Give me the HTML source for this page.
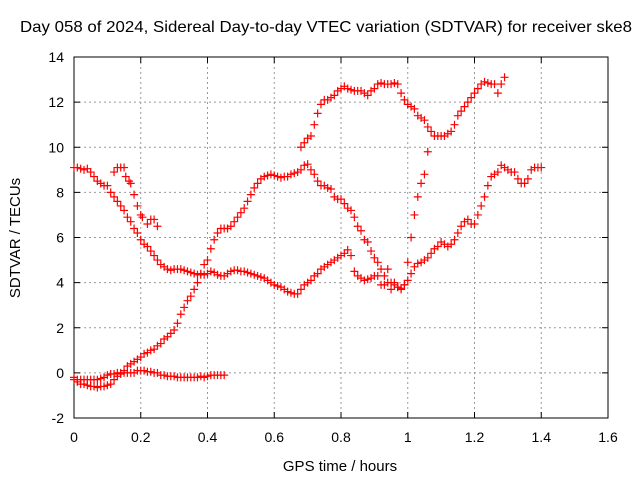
<!DOCTYPE html>
<html><head><meta charset="utf-8"><style>
body{margin:0;background:#fff;}
svg{display:block;font-family:"Liberation Sans",sans-serif;}
</style></head><body>
<svg id="chart" width="640" height="480" viewBox="0 0 640 480">
<text x="20" y="32" font-size="16" textLength="612" lengthAdjust="spacingAndGlyphs">Day 058 of 2024, Sidereal Day-to-day VTEC variation (SDTVAR) for receiver ske8</text>
<text x="340" y="471" font-size="15" text-anchor="middle">GPS time / hours</text>
<text x="20" y="238" font-size="15" text-anchor="middle" transform="rotate(-90 20 238)">SDTVAR / TECUs</text>
<g id="grid"></g><g id="axes"></g><g id="marks"></g>
</svg>
<script>
const xTicks=[0,0.2,0.4,0.6,0.8,1,1.2,1.4,1.6];
const xTickLabels=["0","0.2","0.4","0.6","0.8","1","1.2","1.4","1.6"];
const yTicks=[-2,0,2,4,6,8,10,12,14];
const yTickLabels=["-2","0","2","4","6","8","10","12","14"];
const seriesA=[[0,9.1],[0.01,9.1],[0.02,9.05],[0.03,9.0],[0.04,9.05],[0.05,8.9],[0.06,8.7],[0.07,8.5],[0.08,8.4],[0.09,8.3],[0.10,8.3],[0.11,8.0],[0.12,7.8],[0.13,7.6],[0.14,7.4],[0.15,7.2],[0.16,6.9],[0.17,6.7],[0.18,6.4],[0.19,6.2],[0.20,5.9],[0.21,5.7],[0.22,5.6],[0.23,5.4],[0.24,5.2],[0.25,5.0],[0.26,4.8],[0.27,4.7],[0.28,4.6],[0.29,4.55],[0.30,4.6],[0.31,4.6],[0.32,4.6],[0.33,4.55],[0.34,4.5],[0.35,4.45],[0.36,4.4],[0.37,4.35],[0.38,4.35],[0.39,4.35],[0.40,4.4],[0.41,4.5],[0.42,4.45],[0.43,4.35],[0.44,4.3],[0.45,4.3],[0.46,4.4],[0.47,4.5],[0.48,4.55],[0.49,4.55],[0.50,4.5],[0.51,4.5],[0.52,4.45],[0.53,4.4],[0.54,4.35],[0.55,4.3],[0.56,4.25],[0.57,4.2],[0.58,4.1],[0.59,4.0],[0.60,3.9],[0.61,3.85],[0.62,3.8],[0.63,3.7],[0.64,3.6],[0.65,3.55],[0.66,3.5],[0.67,3.5],[0.68,3.7],[0.69,3.9],[0.70,4.0],[0.71,4.1],[0.72,4.3],[0.73,4.4],[0.74,4.6],[0.75,4.7],[0.76,4.8],[0.77,4.9],[0.78,5.0],[0.79,5.1],[0.80,5.2],[0.81,5.3],[0.82,5.45],[0.83,5.2],[0.84,4.5],[0.85,4.3],[0.86,4.2],[0.87,4.1],[0.88,4.15],[0.89,4.2],[0.90,4.3],[0.91,4.3],[0.92,3.9],[0.93,3.9],[0.94,4.0],[0.95,3.7],[0.96,4.0],[0.97,3.8],[0.98,3.7],[0.99,3.9],[1.00,4.1],[1.01,4.4],[1.02,4.7],[1.03,4.85],[1.04,4.9],[1.05,5.0],[1.06,5.1],[1.07,5.3],[1.08,5.5],[1.09,5.6],[1.10,5.8],[1.11,5.7],[1.12,5.6],[1.13,5.7],[1.14,5.9],[1.15,6.2],[1.16,6.5],[1.17,6.7],[1.18,6.8],[1.19,6.6],[1.20,6.6],[1.21,7.0],[1.22,7.4],[1.23,7.8],[1.24,8.3],[1.25,8.7],[1.26,8.8],[1.27,8.9],[1.28,9.2],[1.29,9.1],[1.30,9.0],[1.31,8.9],[1.32,8.9],[1.33,8.6],[1.34,8.4],[1.35,8.4],[1.36,8.6],[1.37,9.0],[1.38,9.1],[1.39,9.1],[1.40,9.1]];
const seriesB=[[0,-0.3],[0.01,-0.4],[0.02,-0.5],[0.03,-0.5],[0.04,-0.55],[0.05,-0.6],[0.06,-0.6],[0.07,-0.65],[0.08,-0.6],[0.09,-0.6],[0.10,-0.55],[0.11,-0.5],[0.12,-0.3],[0.13,-0.15],[0.14,0.0],[0.15,0.1],[0.16,0.3],[0.17,0.4],[0.18,0.5],[0.19,0.6],[0.20,0.7],[0.21,0.85],[0.22,0.9],[0.23,1.0],[0.24,1.05],[0.25,1.2],[0.26,1.3],[0.27,1.5],[0.28,1.6],[0.29,1.75],[0.30,1.9],[0.31,2.2],[0.32,2.6],[0.33,2.9],[0.34,3.2],[0.35,3.4],[0.36,3.7],[0.37,4.0],[0.38,4.4],[0.39,4.8],[0.40,5.0],[0.41,5.5],[0.42,5.9],[0.43,6.2],[0.44,6.4],[0.45,6.4],[0.46,6.4],[0.47,6.5],[0.48,6.7],[0.49,6.9],[0.50,7.1],[0.51,7.3],[0.52,7.6],[0.53,7.9],[0.54,8.2],[0.55,8.4],[0.56,8.6],[0.57,8.7],[0.58,8.75],[0.59,8.8],[0.60,8.75],[0.61,8.7],[0.62,8.65],[0.63,8.7],[0.64,8.7],[0.65,8.8],[0.66,8.85],[0.67,8.9],[0.68,9.0],[0.69,9.2],[0.70,9.25],[0.71,9.0],[0.72,8.8],[0.73,8.5],[0.74,8.3],[0.75,8.3],[0.76,8.2],[0.77,8.15],[0.78,7.8],[0.79,7.7],[0.80,7.7],[0.81,7.5],[0.82,7.3],[0.83,7.2],[0.84,6.9],[0.85,6.5],[0.86,6.3],[0.87,5.9],[0.88,5.8],[0.89,5.4],[0.90,5.1],[0.91,4.9],[0.92,4.6],[0.93,4.3],[0.94,4.6],[0.95,4.0],[0.96,3.9],[0.97,3.8],[0.98,3.75],[0.99,3.9]];
const seriesC=[[0.68,10.0],[0.69,10.2],[0.70,10.4],[0.71,10.5],[0.72,11.0],[0.73,11.5],[0.74,11.9],[0.75,12.1],[0.76,12.1],[0.77,12.2],[0.78,12.3],[0.79,12.5],[0.80,12.6],[0.81,12.7],[0.82,12.6],[0.83,12.55],[0.84,12.5],[0.85,12.5],[0.86,12.5],[0.87,12.4],[0.88,12.3],[0.89,12.5],[0.90,12.6],[0.91,12.8],[0.92,12.85],[0.93,12.8],[0.94,12.8],[0.95,12.8],[0.96,12.85],[0.97,12.8],[0.98,12.4],[0.99,12.1],[1.00,11.9],[1.01,11.8],[1.02,11.7],[1.03,11.4],[1.04,11.3],[1.05,11.2],[1.06,10.9],[1.07,10.7],[1.08,10.5],[1.09,10.5],[1.10,10.5],[1.11,10.5],[1.12,10.6],[1.13,10.7],[1.14,11.0],[1.15,11.4],[1.16,11.6],[1.17,11.8],[1.18,12.0],[1.19,12.2],[1.20,12.4],[1.21,12.6],[1.22,12.8],[1.23,12.9],[1.24,12.85],[1.25,12.8],[1.26,12.8],[1.27,12.4],[1.28,12.8],[1.29,13.1]];
const seriesD=[[0.12,8.9],[0.13,9.1],[0.14,9.1],[0.15,9.1],[0.155,8.7],[0.165,8.5],[0.17,8.4],[0.18,7.9],[0.19,7.4],[0.20,7.0],[0.205,6.9],[0.22,6.6],[0.23,6.8],[0.24,6.8],[0.25,6.5],[1.00,4.9],[1.01,6.0],[1.02,7.0],[1.03,7.8],[1.04,8.4],[1.05,8.8],[1.06,9.8]];
const seriesE=[[0,-0.2],[0.01,-0.3],[0.02,-0.3],[0.03,-0.3],[0.04,-0.3],[0.05,-0.3],[0.06,-0.3],[0.07,-0.3],[0.08,-0.25],[0.09,-0.2],[0.10,-0.1],[0.11,-0.05],[0.12,-0.05],[0.13,0.0],[0.14,-0.05],[0.15,0.0],[0.16,0.0],[0.17,0.0],[0.18,0.0],[0.19,0.1],[0.20,0.1],[0.21,0.1],[0.22,0.05],[0.23,0.05],[0.24,0.0],[0.25,0.0],[0.26,-0.1],[0.27,-0.1],[0.28,-0.15],[0.29,-0.15],[0.30,-0.15],[0.31,-0.2],[0.32,-0.2],[0.33,-0.2],[0.34,-0.2],[0.35,-0.2],[0.36,-0.2],[0.37,-0.2],[0.38,-0.15],[0.39,-0.2],[0.40,-0.15],[0.41,-0.1],[0.42,-0.1],[0.43,-0.1],[0.44,-0.1],[0.45,-0.1]];

const L=74,R=608,T=57,B=418,X0=0,X1=1.6,Y0=-2,Y1=14;
const NS="http://www.w3.org/2000/svg";
function sx(v){return L+(v-X0)/(X1-X0)*(R-L);}
function sy(v){return B-(v-Y0)/(Y1-Y0)*(B-T);}
function mk(tag,attrs,parent){const e=document.createElementNS(NS,tag);for(const k in attrs)e.setAttribute(k,attrs[k]);parent.appendChild(e);return e;}
const grid=document.getElementById('grid'),axes=document.getElementById('axes'),marks=document.getElementById('marks');
xTicks.forEach((t,i)=>{const x=sx(t);
 if(i>0&&i<xTicks.length-1){const g=mk('line',{x1:x,y1:T,x2:x,y2:B,stroke:'#999','stroke-dasharray':'2,3'},grid);
 
 }
 mk('line',{x1:x,y1:B,x2:x,y2:B-6,stroke:'#000'},axes);
 mk('line',{x1:x,y1:T,x2:x,y2:T+6,stroke:'#000'},axes);
 const tx=mk('text',{x:x,y:B+24,'font-size':14,'text-anchor':'middle'},axes);tx.textContent=xTickLabels[i];
 
 
});
yTicks.forEach((t,i)=>{const y=sy(t);
 if(i>0&&i<yTicks.length-1){const g=mk('line',{x1:L,y1:y,x2:R,y2:y,stroke:'#999','stroke-dasharray':'2,3'},grid);
 
 }
 mk('line',{x1:L,y1:y,x2:L+6,y2:y,stroke:'#000'},axes);
 mk('line',{x1:R,y1:y,x2:R-6,y2:y,stroke:'#000'},axes);
 const tx=mk('text',{x:L-10,y:y+5,'font-size':14,'text-anchor':'end'},axes);tx.textContent=yTickLabels[i];
 
 
});
const frame=mk('rect',{x:L,y:T,width:R-L,height:B-T,fill:'none',stroke:'#000'},axes);


[seriesA,seriesB,seriesC,seriesD,seriesE].forEach((s,si)=>{
 const g=mk('g',{stroke:'#f00','stroke-width':1.2},marks);
 
 
 s.forEach(p=>{const x=sx(p[0]),y=sy(p[1]);
  const c=mk('path',{d:`M${x-4} ${y}H${x+4}M${x} ${y-4}V${y+4}`},g);
  
  
 });
});
</script>
</body></html>
